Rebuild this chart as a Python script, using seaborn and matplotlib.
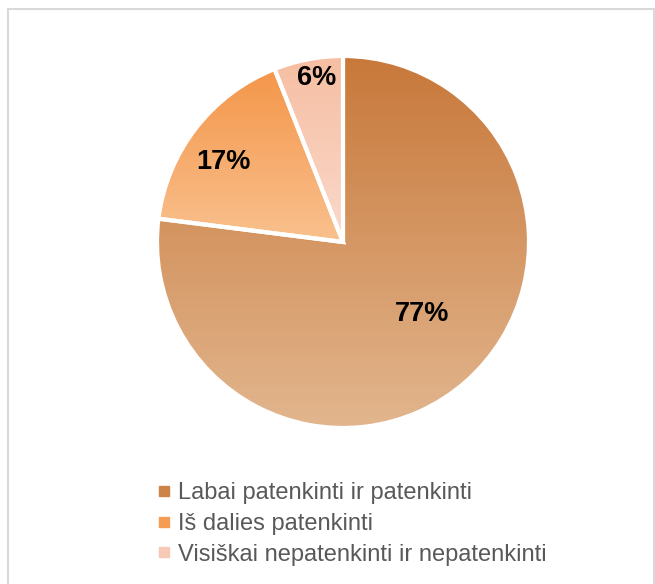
"""
Pie chart: satisfaction shares with gradient wedges
"""
import matplotlib
matplotlib.use("Agg")
import matplotlib.pyplot as plt
import seaborn as sns
import numpy as np
from matplotlib.colors import LinearSegmentedColormap
from matplotlib.lines import Line2D
from matplotlib.patches import Wedge, Rectangle

# data
categories = ["Labai patenkinti ir patenkinti",
              "Iš dalies patenkinti",
              "Visiškai nepatenkinti ir nepatenkinti"]
shares = [77, 17, 6]
labels = ["77%", "17%", "6%"]

# gradient colours (top, bottom) per slice
top_colors = ["#C8783A", "#F4964A", "#F6BEA2"]
bottom_colors = ["#E2B68E", "#F9C18E", "#FAD9CB"]
legend_colors = ["#CD8449", "#F59C52", "#F8C9B4"]
# label placement: fraction of radius and angle nudge from the slice middle
label_radius = [0.575, 0.773, 0.893]
label_nudge = [6.3, 4.0, -1.8]

sns.set_theme(style="white")
plt.rcParams['font.family'] = ['Liberation Sans', 'DejaVu Sans']

W, H = 655, 584
fig = plt.figure(figsize=(W / 100, H / 100), dpi=100)
fig.patch.set_facecolor("white")

# outer frame, runs off the right/bottom edge like in the source
fig.patches.append(Rectangle((8 / W, -0.05), (654 - 8) / W, 1 - 9 / H + 0.05,
                             transform=fig.transFigure, fill=False,
                             ec="#D9D9D9", lw=1.5, zorder=0))

cx, cy, r = 343, 242, 186
ax = fig.add_axes([(cx - r) / W, (H - cy - r) / H, 2 * r / W, 2 * r / H])

wedges, _ = ax.pie(shares, startangle=90, counterclock=False, radius=1,
                   colors=legend_colors, wedgeprops=dict(linewidth=0))

for i, w in enumerate(wedges):
    verts = w.get_path().vertices
    x0, y0 = verts.min(axis=0)
    x1, y1 = verts.max(axis=0)
    cmap = LinearSegmentedColormap.from_list(f"g{i}", [top_colors[i], bottom_colors[i]])
    grad = np.linspace(0, 1, 256).reshape(-1, 1)
    im = ax.imshow(grad, cmap=cmap, aspect="auto", extent=[x0, x1, y0, y1],
                   origin="upper", zorder=2, interpolation="bilinear")
    im.set_clip_path(w)
    # white separators
    ax.add_patch(Wedge(w.center, w.r, w.theta1, w.theta2, fill=False,
                       ec="white", lw=3, zorder=3))
    mid = np.deg2rad((w.theta1 + w.theta2) / 2 + label_nudge[i])
    ax.text(label_radius[i] * np.cos(mid), label_radius[i] * np.sin(mid), labels[i],
            ha="center", va="center", fontsize=19.5, fontweight="bold",
            color="black", zorder=4)

ax.set_xlim(-1, 1)
ax.set_ylim(-1, 1)
ax.set_aspect("equal")
ax.axis("off")

handles = [Line2D([0], [0], marker="s", linestyle="none", markersize=7,
                  markerfacecolor=c, markeredgecolor=c) for c in legend_colors]
fig.legend(handles, categories, loc="upper left",
           bbox_to_anchor=(147 / W, 1 - 470 / H), frameon=False,
           fontsize=17, labelcolor="#595959", handlelength=0.42,
           handletextpad=0.38, labelspacing=0.38, borderpad=0)

fig.savefig("out.png", dpi=100)
